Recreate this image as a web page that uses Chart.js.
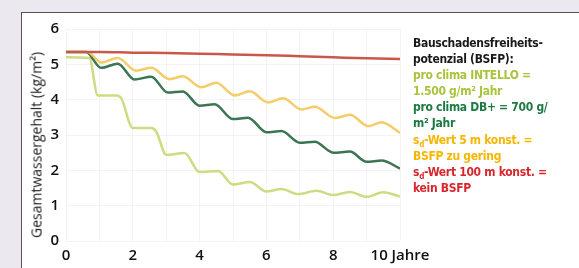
<!DOCTYPE html>
<html lang="de">
<head>
<meta charset="utf-8">
<title>Gesamtwassergehalt</title>
<script src="https://cdn.jsdelivr.net/npm/chart.js@4/dist/chart.umd.min.js"></script>
<style>
  html, body { margin: 0; padding: 0; }
  body { width: 579px; height: 268px; background: #ece8ef; position: relative; overflow: hidden; }
  #panel {
    position: absolute; left: 21px; top: 12px; width: 600px; height: 300px;
    background: #fff; border-left: 1.5px solid #5b4d5f; border-top: 1.5px solid #5b4d5f;
  }
  #chart { position: absolute; left: 0; top: 0; }
  #ytitle {
    position: absolute; left: 36px; top: 145px; white-space: nowrap;
    transform: translate(-50%, -50%) rotate(-90deg);
    font-family: 'Open Sans', sans-serif; font-size: 14px; font-weight: 500; color: #1a1a1a;
  }
  #legend {
    position: absolute; left: 413px; top: 35px; width: 165px;
    font-family: 'DejaVu Sans Condensed', sans-serif;
    font-weight: bold; font-size: 12px; letter-spacing: -0.3px; line-height: 16.1px; color: #1a1a1a;
  }
  #legend sub { font-size: 8px; vertical-align: -3px; line-height: 0; }
</style>
</head>
<body>
<div id="panel"></div>
<canvas id="chart" width="579" height="268"></canvas>
<div id="ytitle"></div>
<div id="legend"></div>
<script>
// Jahre / Gesamtwassergehalt (kg/m²)
const intelloPoints = [
  [0, 5.2], [0.7, 5.18], [0.95, 4.12], [1.5, 4.12], [1.65, 4.05],
  [2.0, 3.2], [2.55, 3.2], [2.7, 3.1], [3.0, 2.44],
  [3.55, 2.49], [4.0, 1.95], [4.55, 1.98],
  [5.0, 1.6], [5.5, 1.67], [6.0, 1.4],
  [6.45, 1.47], [6.95, 1.33], [7.5, 1.42],
  [8.0, 1.3], [8.5, 1.39], [9.0, 1.25],
  [9.5, 1.38], [10, 1.26],
];
const dbPlusPoints = [
  [0, 5.35], [0.6, 5.35], [1.05, 4.9], [1.55, 5.02],
  [2.05, 4.57], [2.55, 4.65], [3.05, 4.2],
  [3.5, 4.23], [4.0, 3.83], [4.45, 3.87],
  [5.0, 3.45], [5.45, 3.49], [6.0, 3.08],
  [6.45, 3.11], [7.0, 2.78], [7.45, 2.81],
  [8.0, 2.5], [8.5, 2.53], [9.0, 2.24],
  [9.45, 2.28], [10, 2.05],
];
const sd5Points = [
  [0, 5.35], [0.65, 5.35], [1.05, 5.05], [1.55, 5.18],
  [2.1, 4.82], [2.55, 4.9], [3.1, 4.58],
  [3.5, 4.66], [4.05, 4.35], [4.5, 4.48],
  [5.05, 4.12], [5.5, 4.24], [6.05, 3.92],
  [6.5, 4.04], [7.05, 3.72], [7.45, 3.8],
  [8.05, 3.48], [8.5, 3.57], [9.05, 3.25],
  [9.45, 3.36], [10, 3.06],
];
const sd100Points = [
  [0, 5.35], [1, 5.35], [2, 5.33], [3, 5.32], [4, 5.3], [5, 5.28],
  [6, 5.26], [7, 5.23], [8, 5.2], [9, 5.17], [10, 5.15],
];

const yTitle = 'Gesamtwassergehalt (kg/m²)';
const xUnit = 'Jahre';
const legendHtml = [
  '<span style="color:#1a1a1a">Bauschadensfreiheits-<br>potenzial (BSFP):</span>',
  '<span style="color:#a8c43c">pro clima INTELLO =<br>1.500 g/m² Jahr</span>',
  '<span style="color:#1c7a43">pro clima DB+ = 700 g/<br>m² Jahr</span>',
  '<span style="color:#f6b600">s<sub>d</sub>-Wert 5 m konst. =<br>BSFP zu gering</span>',
  '<span style="color:#d8262d">s<sub>d</sub>-Wert 100 m konst. =<br>kein BSFP</span>',
];

((document, Chart) => {
  let chart;

  const toXY = (points) => points.map(([x, y]) => ({ x, y }));

  const line = (points, color) => ({
    data: toXY(points),
    borderColor: color,
    borderWidth: 2.5,
    pointRadius: 0,
    cubicInterpolationMode: 'monotone',
    fill: false,
  });

  const tickFont = { family: "'Open Sans', sans-serif", size: 15, weight: '600' };

  const initChart = () => {
    chart = new Chart(document.getElementById('chart'), {
      type: 'line',
      data: {
        datasets: [
          line(sd100Points, '#c9574b'),
          line(sd5Points, '#f4cd68'),
          line(dbPlusPoints, '#3b7553'),
          line(intelloPoints, '#cfdb82'),
        ],
      },
      options: {
        responsive: false,
        animation: false,
        layout: { padding: { left: 22, top: 29, right: 179, bottom: 0 } },
        plugins: { legend: { display: false }, tooltip: { enabled: false } },
        scales: {
          x: {
            type: 'linear',
            min: 0,
            max: 10,
            afterFit: (scale) => { scale.height = 27; },
            border: { display: false },
            grid: { color: 'rgba(0,0,0,0.045)', drawTicks: false },
            ticks: {
              stepSize: 1,
              padding: 6,
              maxRotation: 0,
              autoSkip: false,
              color: '#111',
              font: tickFont,
              callback: (v) => (v % 2 ? '' : (v === 10 ? `10 ${xUnit}` : String(v))),
            },
          },
          y: {
            min: 0,
            max: 6,
            afterFit: (scale) => { scale.width = 44; },
            border: { display: false },
            grid: { color: 'rgba(0,0,0,0.045)', drawTicks: false },
            ticks: { stepSize: 1, padding: 7, color: '#111', font: tickFont },
          },
        },
      },
    });
  };

  const initTexts = () => {
    document.getElementById('ytitle').textContent = yTitle;
    document.getElementById('legend').innerHTML = legendHtml.join('<br>');
  };

  initTexts();
  initChart();
})(document, Chart);
</script>
</body>
</html>
